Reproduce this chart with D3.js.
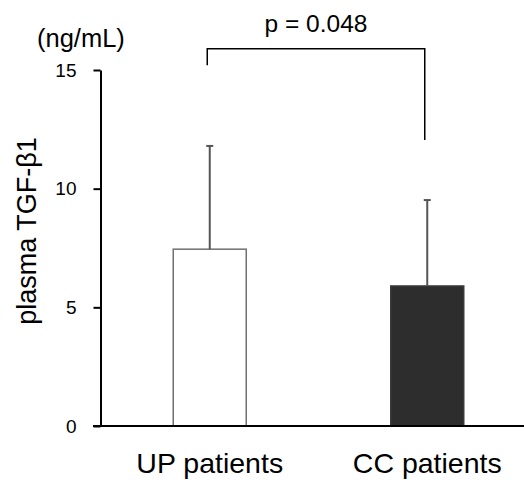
<!DOCTYPE html>
<html>
<head>
<meta charset="utf-8">
<script src="https://cdn.jsdelivr.net/npm/d3@7"></script>
<style>
  body { margin: 0; background: #fff; }
  text { font-family: "Liberation Sans", Arial, sans-serif; fill: #000; }
</style>
</head>
<body>
<div id="chart"></div>
<script>
const groups = ['UP patients', 'CC patients'];
const means = [7.45, 5.9];
const sds = [4.35, 3.62];
const yTicks = [0, 5, 10, 15];
const pLabel = 'p = 0.048';
const bracketEnds = [15.2, 12.05];
const bracketTop = 15.9;

const w = 524;
const h = 480;
const svg = d3.select('#chart').append('svg')
              .attr('width', w)
              .attr('height', h);

const y = d3.scaleLinear().domain([0, 15]).range([426, 70]);
const x = d3.scalePoint().domain(groups).range([101, 536]).padding(0.5);
const barW = 73;

// bars
svg.selectAll('rect.bar')
   .data(groups)
   .enter()
   .append('rect')
   .attr('class', 'bar')
   .attr('x', d => x(d) - barW / 2)
   .attr('y', (d, i) => y(means[i]))
   .attr('width', barW)
   .attr('height', (d, i) => y(0) - y(means[i]))
   .style('fill', (d, i) => i === 0 ? '#fff' : '#2d2d2d')
   .style('stroke', (d, i) => i === 0 ? '#707070' : '#3a3a3a')
   .style('stroke-width', 1.5);

// error bars (upper only)
svg.selectAll('line.err')
   .data(groups)
   .enter()
   .append('line')
   .attr('x1', d => x(d))
   .attr('x2', d => x(d))
   .attr('y1', (d, i) => y(means[i]))
   .attr('y2', (d, i) => y(means[i] + sds[i]))
   .style('stroke', '#555')
   .style('stroke-width', 2);

svg.selectAll('line.cap')
   .data(groups)
   .enter()
   .append('line')
   .attr('x1', d => x(d) - 3.5)
   .attr('x2', d => x(d) + 3.5)
   .attr('y1', (d, i) => y(means[i] + sds[i]))
   .attr('y2', (d, i) => y(means[i] + sds[i]))
   .style('stroke', '#555')
   .style('stroke-width', 2);

// y axis
const yAxis = svg.append('g')
   .attr('transform', 'translate(100.5,0)')
   .call(d3.axisLeft(y).tickValues(yTicks).tickSize(7).tickPadding(17).tickSizeOuter(0));
yAxis.select('.domain').style('stroke', '#000').style('stroke-width', 2);
yAxis.selectAll('.tick line').style('stroke', '#000').style('stroke-width', 2);
yAxis.selectAll('.tick text')
     .style('fill', '#000')
     .style('font-size', '19px')
     .style('font-family', '"Liberation Sans", Arial, sans-serif');

// x axis baseline
svg.append('line')
   .attr('x1', 93)
   .attr('x2', w)
   .attr('y1', y(0))
   .attr('y2', y(0))
   .style('stroke', '#000')
   .style('stroke-width', 2);

// category labels
svg.selectAll('text.cat')
   .data(groups)
   .enter()
   .append('text')
   .attr('class', 'cat')
   .attr('x', d => x(d))
   .attr('y', 473)
   .attr('text-anchor', 'middle')
   .style('font-size', '28.5px')
   .text(d => d);

// y label and unit
svg.append('text')
   .attr('transform', 'translate(36,231) rotate(-90)')
   .attr('text-anchor', 'middle')
   .style('font-size', '27px')
   .text('plasma TGF-β1');

svg.append('text')
   .attr('x', 37)
   .attr('y', 47)
   .style('font-size', '25.5px')
   .text('(ng/mL)');

// significance bracket
const bx = groups.map(d => x(d) - 2.5);
svg.append('path')
   .attr('d', `M${bx[0]},${y(bracketEnds[0])}V${y(bracketTop)}H${bx[1]}V${y(bracketEnds[1])}`)
   .style('fill', 'none')
   .style('stroke', '#000')
   .style('stroke-width', 1.5);

svg.append('text')
   .attr('x', (bx[0] + bx[1]) / 2)
   .attr('y', 32)
   .attr('text-anchor', 'middle')
   .style('font-size', '24.5px')
   .text(pLabel);
</script>
</body>
</html>
